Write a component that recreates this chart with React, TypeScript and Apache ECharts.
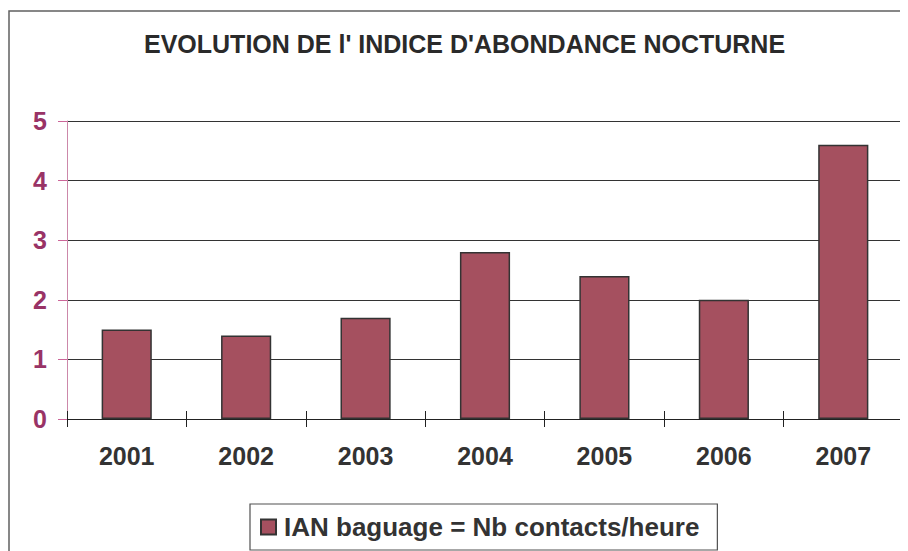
import React, { useEffect, useRef } from "react";
import * as echarts from "echarts";

const titleText = "EVOLUTION DE l' INDICE D'ABONDANCE NOCTURNE";
const years = ["2001", "2002", "2003", "2004", "2005", "2006", "2007"];
const ianValues = [1.5, 1.4, 1.7, 2.8, 2.4, 2.0, 4.6];
const seriesName = "IAN baguage = Nb contacts/heure";

export default function App() {
  const ref = useRef<HTMLDivElement>(null);
  useEffect(() => {
    if (!ref.current) return;
    const chart = echarts.init(ref.current, null, { renderer: "svg" });
    const font = "'Liberation Sans', Arial, sans-serif";
    chart.setOption({
      animation: false,
      backgroundColor: "#ffffff",
      textStyle: { fontFamily: font },
      title: {
        text: titleText,
        left: 136,
        top: 23,
        padding: 0,
        textStyle: { fontFamily: font, fontSize: 25, fontWeight: "bold", color: "#2a2a2a" },
      },
      graphic: [
        {
          type: "rect",
          shape: { x: 1, y: 3, width: 920, height: 560 },
          style: { fill: "none", stroke: "#606060", lineWidth: 1.5 },
          silent: true,
        },
      ],
      legend: {
        data: [seriesName],
        left: 242,
        top: 496,
        padding: [10, 18, 10, 10],
        borderColor: "#505050",
        borderWidth: 1.2,
        itemWidth: 15,
        itemHeight: 15,
        icon: "rect",
        textStyle: {
          fontFamily: font,
          fontSize: 26,
          fontWeight: "bold",
          color: "#333333",
          padding: [0, 0, 0, 3],
        },
      },
      grid: { left: 59, right: 5, top: 113, bottom: 132, containLabel: false },
      xAxis: [
        {
          type: "category",
          data: years,
          position: "bottom",
          axisLine: { lineStyle: { color: "#222222", width: 1 } },
          axisTick: { show: true, length: 8, inside: false, lineStyle: { color: "#222222" } },
          axisLabel: { margin: 24, fontFamily: font, fontSize: 25, fontWeight: "bold", color: "#333333" },
        },
        {
          type: "category",
          data: years,
          position: "bottom",
          axisLine: { show: false },
          axisTick: { show: true, length: 8, inside: true, lineStyle: { color: "#222222" } },
          axisLabel: { show: false },
        },
      ],
      yAxis: {
        type: "value",
        min: 0,
        max: 5,
        interval: 1,
        axisLine: { show: true, lineStyle: { color: "#cc88aa", width: 1 } },
        axisTick: { show: true, length: 9, lineStyle: { color: "#cc6699" } },
        axisLabel: { margin: 20, fontFamily: font, fontSize: 25, fontWeight: "bold", color: "#993366" },
        splitLine: { show: true, lineStyle: { color: "#333333", width: 1 } },
      },
      series: [
        {
          name: seriesName,
          type: "bar",
          data: ianValues,
          barWidth: "42%",
          itemStyle: { color: "#a5505f", borderColor: "#333333", borderWidth: 1.5 },
        },
      ],
    });
    return () => chart.dispose();
  }, []);
  return <div ref={ref} style={{ width: 900, height: 543 }} />;
}
